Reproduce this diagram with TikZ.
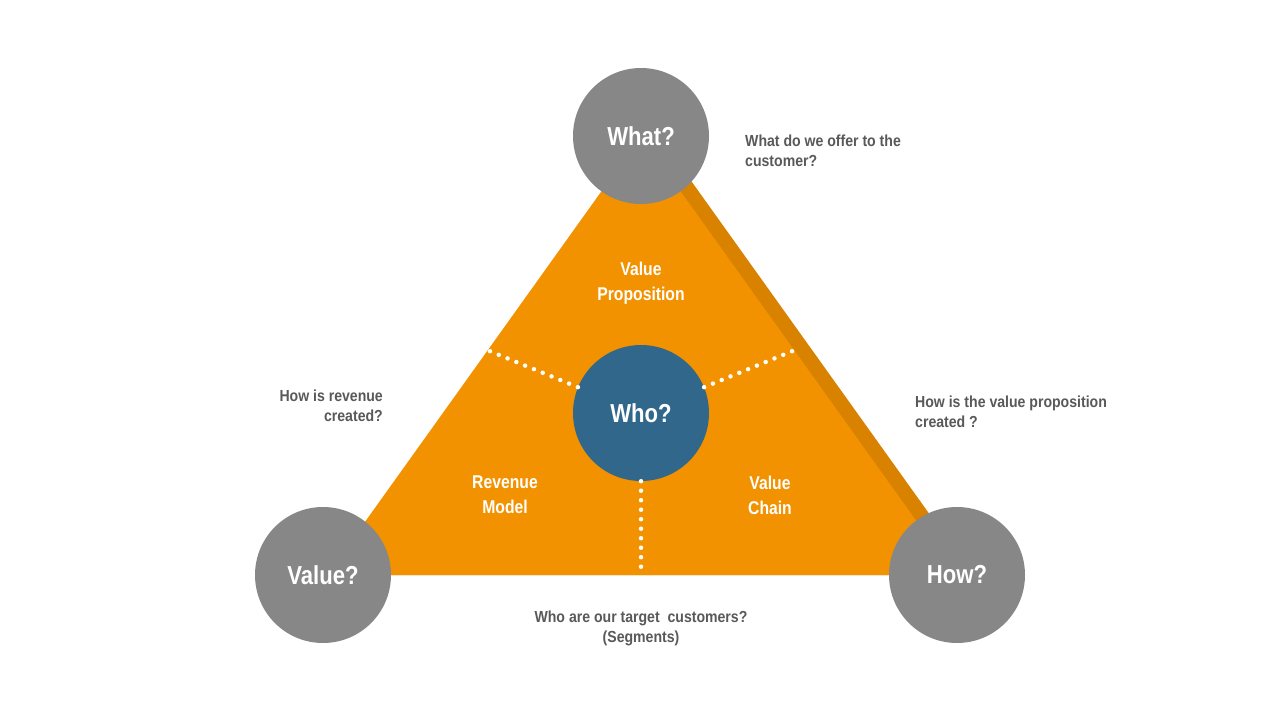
\documentclass[tikz,border=0pt]{standalone}
\usepackage{fontspec}
\setmainfont{Liberation Sans}[FakeStretch=0.85]
\newfontfamily\notefont{Liberation Sans Bold}[FakeStretch=0.88]
\usetikzlibrary{positioning,calc}
\definecolor{tri}{RGB}{243,146,0}
\definecolor{trishade}{RGB}{216,130,0}
\definecolor{qgray}{RGB}{135,135,135}
\definecolor{whoblue}{RGB}{48,103,138}
\definecolor{txtgray}{RGB}{89,89,89}
\begin{document}
\begin{tikzpicture}[x=1pt,y=-1pt,
ball/.style={circle,fill=qgray,minimum size=136pt,inner sep=0pt,text=white,font=\fontsize{26}{30}\selectfont\bfseries},
part/.style={text=white,align=center,font=\fontsize{18.5}{25}\selectfont\bfseries},
note/.style={text=txtgray,inner sep=0pt,font=\fontsize{16}{20}\selectfont\notefont},
dots/.style={white,line width=4.5pt,line cap=round,dash pattern=on 0pt off 9.5pt}]
\fill[white] (0,0) rectangle (1280,720);
\useasboundingbox (0,0) rectangle (1280,720);
\coordinate (top) at (641,136);
\coordinate (left) at (327,575);
\coordinate (right) at (955,575);
% shaded right edge, then the triangle
\fill[trishade] ($(top)+(18,0)$) -- ($(left)+(18,0)$) -- ($(right)+(18,0)$) -- cycle;
\fill[tri] (top) -- (left) -- (right) -- cycle;
\node[ball,fill=whoblue] (who) at (641,413) {Who?};
\coordinate (edgeL) at (487,350);
\coordinate (edgeR) at (795,350);
\coordinate (edgeB) at (641,575);
\draw[dots] (who) -- (edgeL);
\draw[dots] (who) -- (edgeR);
\draw[dots] (who.south) -- (edgeB);
\node[ball] (what) at (top) {What?};
\node[ball] (value) at (323,575) {Value?};
\node[ball] (how) at (957,575) {How?};
\node[part] (prop) at (641,283) {Value\\Proposition};
\node[part] (revenue) at (505,495) {Revenue\\Model};
\node[part] (chain) at (770,495) {Value\\Chain};
\node[note,anchor=west,align=left] (whatq) at (745,151) {What do we offer to the\\customer?};
\node[note,anchor=east,align=right] (valueq) at (383,406) {How is revenue\\created?};
\node[note,anchor=west,align=left] (howq) at (915,412) {How is the value proposition\\created ?};
\node[note,align=center] (whoq) at (641,628) {Who are our target\ \ customers?\\(Segments)};
\end{tikzpicture}
\end{document}
